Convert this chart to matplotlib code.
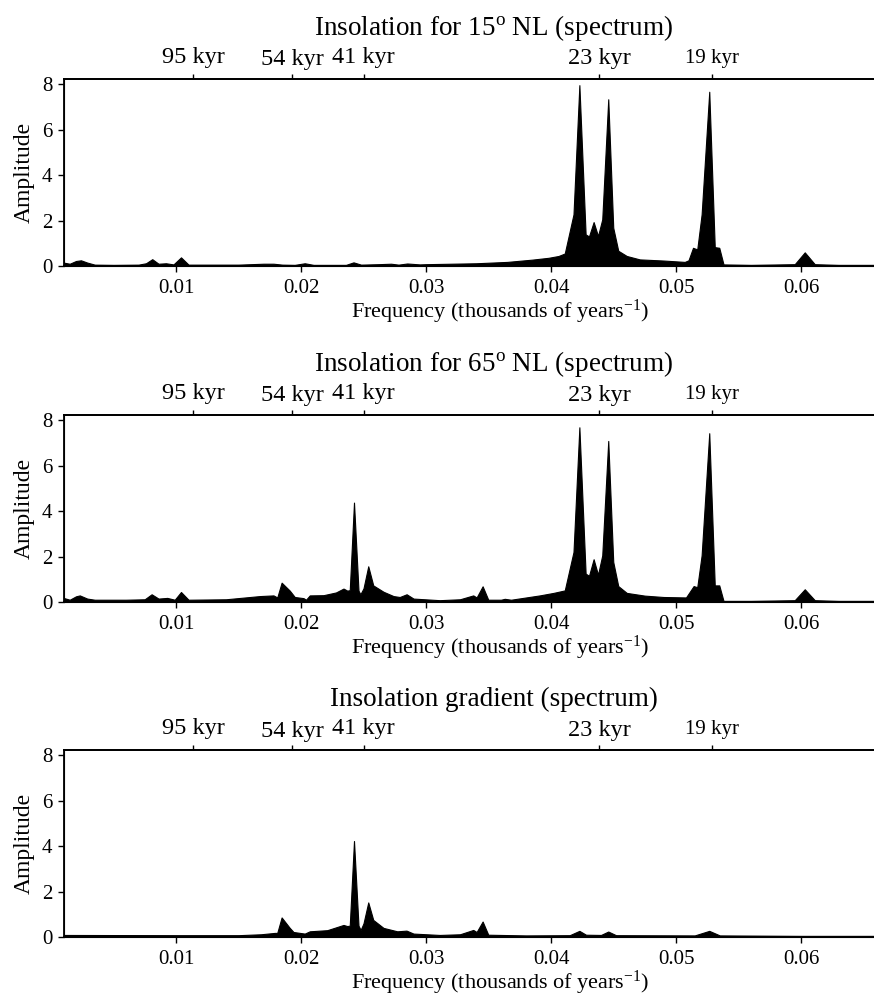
import matplotlib
matplotlib.use('Agg')
import matplotlib.pyplot as plt
import matplotlib.transforms as mtransforms

plt.rcParams['font.family'] = ['Liberation Serif', 'DejaVu Serif']
plt.rcParams['mathtext.fontset'] = 'custom'
plt.rcParams['mathtext.rm'] = 'Liberation Serif'
plt.rcParams['mathtext.it'] = 'Liberation Serif:italic'

# Spectrum: frequency (1/kyr) and amplitude
freq_15 = [0.0010, 0.0015, 0.0020, 0.0024, 0.0029, 0.0035, 0.0050, 0.0070, 0.0076, 0.0081,
           0.0086, 0.0092, 0.0098, 0.0104, 0.0110, 0.0150, 0.0170, 0.0178, 0.0185, 0.0195,
           0.0203, 0.0210, 0.0236, 0.0242, 0.0248, 0.0262, 0.0272, 0.0278, 0.0285, 0.0295,
           0.0300, 0.0340, 0.0365, 0.0385, 0.0398, 0.0406, 0.0411, 0.0418, 0.04227, 0.04277,
           0.04304, 0.04341, 0.04376, 0.04410, 0.04458, 0.04498, 0.04538, 0.04606, 0.0471, 0.0490,
           0.0507, 0.0510, 0.05136, 0.0517, 0.05205, 0.05266, 0.0531, 0.05346, 0.0538, 0.0560,
           0.0595, 0.0603, 0.0611, 0.0630, 0.0708]
amp_15 = [0.15, 0.10, 0.22, 0.25, 0.15, 0.06, 0.05, 0.06, 0.12, 0.30,
          0.10, 0.12, 0.07, 0.38, 0.06, 0.06, 0.10, 0.10, 0.06, 0.05,
          0.12, 0.05, 0.05, 0.16, 0.06, 0.08, 0.10, 0.06, 0.11, 0.07,
          0.08, 0.12, 0.18, 0.28, 0.36, 0.44, 0.55, 2.27, 7.95, 1.39,
          1.30, 1.93, 1.32, 2.05, 7.33, 1.68, 0.67, 0.44, 0.29, 0.24,
          0.18, 0.25, 0.80, 0.73, 2.27, 7.66, 0.83, 0.80, 0.07, 0.05,
          0.08, 0.60, 0.08, 0.05, 0.05]

freq_65 = [0.0010, 0.0015, 0.0020, 0.0023, 0.0029, 0.0035, 0.0060, 0.0075, 0.00805, 0.0086,
           0.0093, 0.0099, 0.0104, 0.0110, 0.0140, 0.0167, 0.0178, 0.0181, 0.01845, 0.0191,
           0.0195, 0.0202, 0.0204, 0.0207, 0.0218, 0.0228, 0.0234, 0.0237, 0.0239, 0.02424,
           0.0246, 0.02475, 0.0250, 0.02538, 0.02578, 0.0266, 0.0274, 0.0279, 0.02845, 0.0290,
           0.0311, 0.03272, 0.03378, 0.03405, 0.03453, 0.03498, 0.0360, 0.0363, 0.0368, 0.0391,
           0.0402, 0.0411, 0.0418, 0.04227, 0.04277, 0.04304, 0.04341, 0.04376, 0.04410, 0.04458,
           0.04498, 0.04538, 0.04606, 0.0475, 0.0490, 0.0508, 0.05141, 0.0517, 0.05205, 0.05266,
           0.0531, 0.05346, 0.0538, 0.0560, 0.0595, 0.0603, 0.0611, 0.0630, 0.0708]
amp_65 = [0.18, 0.10, 0.25, 0.29, 0.15, 0.10, 0.10, 0.12, 0.34, 0.15,
          0.18, 0.10, 0.44, 0.10, 0.12, 0.26, 0.29, 0.20, 0.85, 0.50,
          0.22, 0.17, 0.10, 0.29, 0.30, 0.42, 0.59, 0.50, 0.52, 4.37,
          0.50, 0.34, 0.60, 1.57, 0.73, 0.45, 0.26, 0.22, 0.34, 0.15,
          0.08, 0.12, 0.29, 0.20, 0.69, 0.10, 0.10, 0.14, 0.10, 0.29,
          0.40, 0.51, 2.20, 7.68, 1.25, 1.15, 1.88, 1.20, 2.05, 7.08,
          1.76, 0.70, 0.40, 0.28, 0.22, 0.20, 0.70, 0.65, 2.05, 7.42,
          0.73, 0.73, 0.05, 0.05, 0.08, 0.56, 0.08, 0.05, 0.05]

freq_grad = [0.0010, 0.0100, 0.0150, 0.0168, 0.0179, 0.0181, 0.01845, 0.0191, 0.0194, 0.0203,
             0.0207, 0.0221, 0.0234, 0.0237, 0.0239, 0.02424, 0.0246, 0.02477, 0.0250, 0.02538,
             0.02578, 0.0266, 0.0277, 0.02844, 0.0290, 0.0311, 0.03272, 0.03378, 0.03405, 0.03453,
             0.03498, 0.0380, 0.0415, 0.04227, 0.0428, 0.0440, 0.04458, 0.0452, 0.0515, 0.05266,
             0.0535, 0.0600, 0.0708]
amp_grad = [0.09, 0.08, 0.08, 0.12, 0.18, 0.18, 0.86, 0.40, 0.22, 0.15,
            0.25, 0.30, 0.53, 0.48, 0.50, 4.22, 0.50, 0.31, 0.60, 1.52,
            0.75, 0.40, 0.25, 0.28, 0.15, 0.09, 0.12, 0.31, 0.22, 0.68,
            0.10, 0.07, 0.08, 0.27, 0.10, 0.09, 0.24, 0.08, 0.07, 0.27,
            0.07, 0.05, 0.05]

titles = ['Insolation for 15$^{\\mathrm{o}}$ NL (spectrum)',
          'Insolation for 65$^{\\mathrm{o}}$ NL (spectrum)',
          'Insolation gradient (spectrum)']

period_ticks = [0.01138, 0.01928, 0.02502, 0.04386, 0.05286]
period_labels = ['95 kyr', '54 kyr', '41 kyr', '23 kyr', '19 kyr']
period_sizes = [17.5, 17.5, 17.5, 17.5, 15]
period_raise = [16, 13.5, 16, 14.5, 16]

freq_ticks = [0.01, 0.02, 0.03, 0.04, 0.05, 0.06]
amp_ticks = [0, 2, 4, 6, 8]

W, H = 874, 997
fig = plt.figure(figsize=(W / 100, H / 100), dpi=100)

panel_tops = [79, 415, 750]
ax_h = 187
left = 63.5
width = 872.5

series = [(freq_15, amp_15), (freq_65, amp_65), (freq_grad, amp_grad)]

for i, (fx, ay) in enumerate(series):
    top = panel_tops[i]
    ax = fig.add_axes([left / W, 1 - (top + ax_h) / H, width / W, ax_h / H])
    ax.fill_between(fx, 0, ay, color='black', linewidth=0.8)
    ax.set_xlim(0.001, 0.0708)
    ax.set_ylim(0, 8.22)
    ax.set_xticks(freq_ticks)
    ax.set_xticklabels(['%.2f' % t for t in freq_ticks])
    ax.set_yticks(amp_ticks)
    ax.tick_params(labelsize=15, length=4, width=1.0)
    ax.tick_params(axis='x', pad=5.5)
    ax.tick_params(axis='y', pad=4)
    for s in ['left', 'bottom', 'top']:
        ax.spines[s].set_linewidth(1.3)
    ax.spines['right'].set_visible(False)
    ax.set_ylabel('Amplitude', fontsize=17, labelpad=5)
    ax.set_xlabel('Frequency (thousands of years$^{\\mathrm{-1}}$)', fontsize=16, labelpad=0)

    # upper axis with the orbital periods
    ax2 = ax.twiny()
    ax2.set_xlim(ax.get_xlim())
    ax2.set_xticks(period_ticks)
    ax2.set_xticklabels([''] * len(period_ticks))
    ax2.tick_params(length=3.5, width=1.0)
    ax2.spines['right'].set_visible(False)
    ax2.spines['top'].set_linewidth(1.3)
    for f, lab, fs, up in zip(period_ticks, period_labels, period_sizes, period_raise):
        tr = mtransforms.offset_copy(ax.get_xaxis_transform(), fig=fig, y=up, units='dots')
        ax.text(f, 1, lab, transform=tr, ha='center', va='baseline', fontsize=fs)

    ttr = mtransforms.offset_copy(ax.transAxes, fig=fig, y=44, units='dots')
    ax.text(0.493, 1, titles[i], transform=ttr, ha='center', va='baseline', fontsize=19.5)

fig.savefig('out.png', dpi=100)
